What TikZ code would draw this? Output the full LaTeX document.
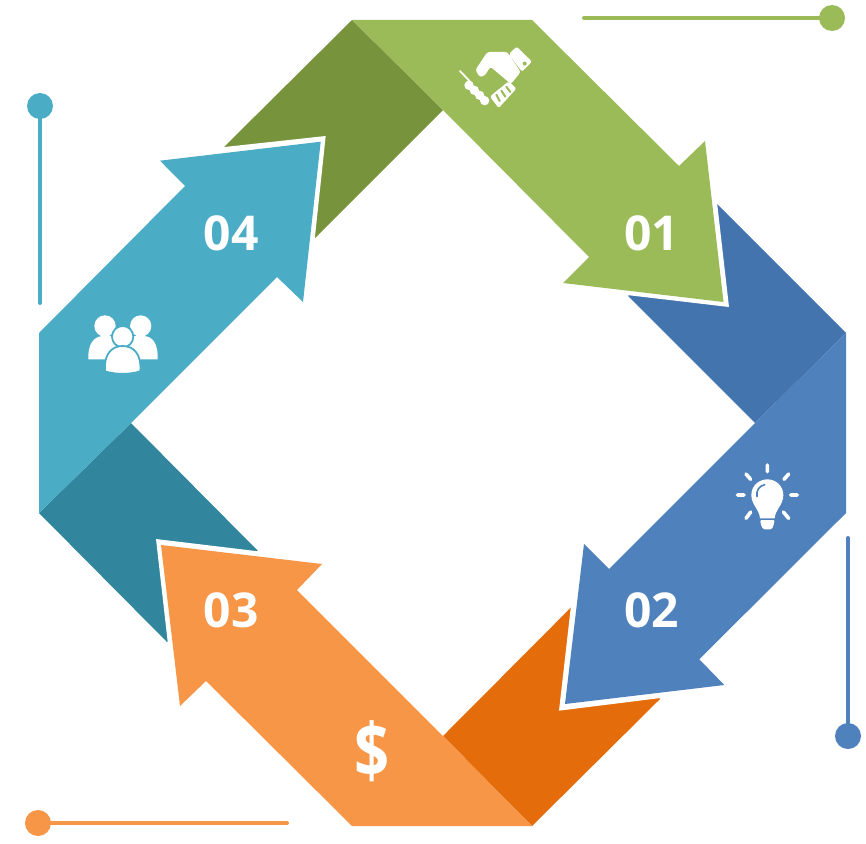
\documentclass[tikz,border=0pt]{standalone}
\usepackage{fontspec}
\setmainfont{Open Sans}
\definecolor{gr}{HTML}{9BBB59}\definecolor{grd}{HTML}{77933C}
\definecolor{bl}{HTML}{4F81BD}\definecolor{bld}{HTML}{4374AE}
\definecolor{te}{HTML}{4BACC6}\definecolor{ted}{HTML}{31859C}
\definecolor{or}{HTML}{F79646}\definecolor{ord}{HTML}{E46C0A}
\tikzset{
  num/.style={text=white,font=\fontsize{48}{48}\selectfont\bfseries,inner sep=0pt},
  deco/.style={line width=4pt,line cap=round},
  ink/.style={fill=white,draw=none},
  ray/.style={draw=white,line width=3.6pt,line cap=round},
}
\begin{document}
\begin{tikzpicture}[x=1pt,y=-1pt]
\useasboundingbox (0,0) rectangle (866,843);
% dark folds
\fill[grd] (352,20)--(443,110)--(315,238)--(224,147)--cycle;
\fill[bld] (717,204)--(846,333)--(755,423)--(628,296)--cycle;
\fill[ord] (532,826)--(443,736)--(571.7,606.7)--(660,699)--cycle;
\fill[ted] (39,513)--(131,423)--(258,551)--(167,642)--cycle;
% white edges
\fill[white] (705,141)--(710,141)--(729,307)--(563,287.5)--(563,283)--cycle;
\fill[white] (724.3,685)--(724.3,690)--(559,710.7)--(578,544)--(584,544)--cycle;
\fill[white] (322,564)--(322,559)--(156,539)--(175,706)--(180,706)--cycle;
\fill[white] (160,160.7)--(160,154)--(325.7,136)--(308,302)--(303,302)--cycle;
% arrows
\fill[gr] (352,20)--(532,20)--(679,166)--(705,141)--(723.5,302)--(563,283)--(589,257)--(443,110)--cycle;
\fill[bl] (846,333)--(846,513)--(699.3,659.3)--(724.3,685)--(565,704)--(584,544)--(609,569)--(755,423)--cycle;
\fill[or] (532,826)--(352,826)--(206,681)--(180,706)--(161,545)--(322,564)--(297,590)--(443,736)--cycle;
\fill[te] (39,513)--(39,333)--(185,186)--(160,160.7)--(320.7,141.7)--(303,302)--(277,277)--(131,423)--cycle;
% numbers
\node[num] (n1) at (651.5,233) {01};
\node[num] (n2) at (651.5,610) {02};
\node[num] (n3) at (231,610) {03};
\node[num] (n4) at (231,233) {04};
\node[text=white,inner sep=0pt,xscale=.82,font=\fontsize{75}{75}\selectfont\bfseries] (dollar) at (372.4,751) {\$};
% decorative pins
\draw[deco,gr] (584,18)--(832,18); \fill[gr] (832,18) circle (13);
\draw[deco,te] (40,106)--(40,303); \fill[te] (40,106) circle (13);
\draw[deco,bl] (848,538)--(848,736); \fill[bl] (848,736) circle (13);
\draw[deco,or] (38,823)--(287,823); \fill[or] (38,823) circle (13);
% handshake
\begin{scope}[shift={(430,20)},scale=1/3]
\fill[ink,rounded corners=2pt] (260,80)--(306,125)--(276,155)--(236,103)--cycle;
\fill[gr] (284,131) circle (6);
\fill[ink,rounded corners=2.5pt] (232,96)--(172,96)--(136,150)--(150,172)--(165,166)--(181,140)--(243,192)--(272,156)--cycle;
\fill[ink,rounded corners=1.5pt] (243,190)--(259,206)--(206,264)--(180,230)--(190,221)--(236,184)--cycle;
\draw[gr,line width=2pt,line cap=round] (199,224)--(209,243)(214,212)--(226,230)(229,200)--(241,216);
\draw[white,line width=1.8pt,line cap=round] (90,153)--(125,190);
\fill[ink] (117,196) circle (14) (133,211) circle (14) (149,226) circle (14) (164,242) circle (14);
\end{scope}
% bulb
\begin{scope}[shift={(720,450)},scale=1/3]
\draw[ray] (142,45)--(142,65) (78,72)--(92,88) (206,72)--(192,88) (52,135)--(72,135) (212,135)--(232,135) (78,205)--(92,186) (206,205)--(190,186);
\fill[ink] (120,205) .. controls (118,178) and (94,165) .. (94,135) .. controls (94,108) and (116,88) .. (142,88) .. controls (168,88) and (190,108) .. (190,135) .. controls (190,165) and (166,178) .. (164,205) --cycle;
\fill[ink,rounded corners=1.2pt] (120,210)--(164,210)--(160,228)--(155,238)--(130,238)--(124,228)--cycle;
\draw[bl,line width=1.6pt,line cap=round] (111,140) .. controls (108,120) and (118,108) .. (134,104);
\end{scope}
% people
\begin{scope}[shift={(75,300)},scale=1/3]
\fill[ink] (90,78) circle (32) (197,78) circle (32);
\fill[ink] (40,178) .. controls (38,135) and (55,108) .. (85,108) -- (205,108) .. controls (235,108) and (250,135) .. (248,178) --cycle;
\draw[te,line width=1.8pt,fill=white] (143,110) circle (32);
\draw[te,line width=1.8pt,fill=white] (90,214) .. controls (86,165) and (108,138) .. (143,138) .. controls (178,138) and (200,165) .. (196,214) .. controls (165,224) and (120,224) .. (90,214) --cycle;
\end{scope}
\end{tikzpicture}
\end{document}
